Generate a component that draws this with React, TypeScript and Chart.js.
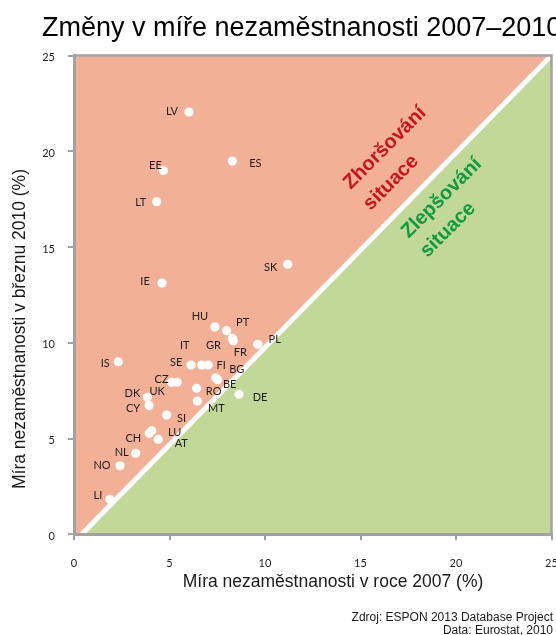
import React, { useEffect, useRef } from "react";
import { Chart, registerables } from "chart.js";
Chart.register(...registerables);

// ---- data ----
const countryCodes = [
  "LV", "ES", "EE", "LT", "IE", "SK", "HU", "PT", "GR", "FR", "PL",
  "IS", "SE", "IT", "FI", "BG", "BE", "CZ", "UK", "RO", "DE", "MT",
  "DK", "CY", "SI", "LU", "CH", "AT", "NL", "NO", "LI",
];
const rate2007 = [
  6.02, 8.29, 4.68, 4.33, 4.61, 11.19, 7.38, 7.99, 8.29, 8.34, 9.62,
  2.32, 6.13, 6.69, 7.03, 7.42, 7.52, 5.11, 5.4, 6.42, 8.64, 6.46,
  3.84, 3.93, 4.85, 4.07, 3.94, 4.41, 3.23, 2.41, 1.88,
];
const rate2010 = [
  22.05, 19.49, 18.99, 17.37, 13.12, 14.1, 10.83, 10.63, 10.23, 10.11, 9.92,
  9.01, 8.84, 8.84, 8.84, 8.17, 8.07, 7.94, 7.94, 7.62, 7.31, 6.96,
  7.15, 6.72, 6.23, 5.41, 5.27, 4.96, 4.23, 3.58, 1.83,
];
const axisTicks = [0, 5, 10, 15, 20, 25];

// ---- label placement (pixel offsets of each country label from its point) ----
const LABEL_OFFSETS: Record<string, [number, number]> = {
  LV: [-17, -1], ES: [23, 2], EE: [-8, -5], LT: [-16, 1], IE: [-17, -2],
  SK: [-17, 3], HU: [-15, -10], PT: [16, -8], GR: [-19, 7], FR: [7, 12],
  PL: [17, -5], IS: [-13, 2], SE: [-15, -3], IT: [-17, -20], FI: [13, 0],
  BG: [21, -8], BE: [12, 5], CZ: [-10, -3], UK: [-20, 9], RO: [17, 3],
  DE: [21, 3], MT: [19, 7], DK: [-15, -4], CY: [-16, 3], SI: [15, 3],
  LU: [23, 2], CH: [-16, 5], AT: [23, 4], NL: [-14, -1], NO: [-18, 0],
  LI: [-12, -4],
};

const GRAY = "#a2a2a2";
const SALMON = "rgb(242,177,150)";
const GREEN = "rgb(193,216,152)";
const SANS = '"Liberation Sans", Arial, sans-serif';

export default function App() {
  const ref = useRef<HTMLCanvasElement | null>(null);

  useEffect(() => {
    if (!ref.current) return;

    const plugin = {
      id: "decor",
      beforeDraw(chart: any) {
        const { ctx, chartArea: a, scales } = chart;
        const X = (v: number) => scales.x.getPixelForValue(v);
        const Y = (v: number) => scales.y.getPixelForValue(v);
        ctx.save();
        ctx.beginPath();
        ctx.rect(a.left, a.top, a.right - a.left, a.bottom - a.top);
        ctx.clip();
        ctx.fillStyle = SALMON;
        ctx.beginPath();
        ctx.moveTo(X(0), Y(0));
        ctx.lineTo(X(0.4), Y(0));
        ctx.lineTo(X(25), Y(25));
        ctx.lineTo(X(0), Y(25));
        ctx.closePath();
        ctx.fill();
        ctx.fillStyle = GREEN;
        ctx.beginPath();
        ctx.moveTo(X(0.4), Y(0));
        ctx.lineTo(X(25), Y(0));
        ctx.lineTo(X(25), Y(25));
        ctx.closePath();
        ctx.fill();
        ctx.strokeStyle = "#ffffff";
        ctx.lineWidth = 5;
        ctx.beginPath();
        ctx.moveTo(X(0.4), Y(0));
        ctx.lineTo(X(25), Y(25));
        ctx.stroke();
        ctx.restore();
      },
      beforeDatasetsDraw(chart: any) {
        const { ctx, chartArea: a } = chart;
        ctx.save();
        ctx.strokeStyle = GRAY;
        ctx.lineWidth = 2.5;
        ctx.beginPath();
        ctx.moveTo(a.left, a.top);
        ctx.lineTo(a.right, a.top);
        ctx.lineTo(a.right, a.bottom);
        ctx.stroke();
        ctx.restore();
      },
      afterDatasetsDraw(chart: any) {
        const { ctx } = chart;
        const meta = chart.getDatasetMeta(0);
        ctx.save();
        ctx.font = '11px Lato, "Open Sans", sans-serif';
        ctx.fillStyle = "#1e1e1e";
        ctx.textAlign = "center";
        ctx.textBaseline = "middle";
        meta.data.forEach((pt: any, i: number) => {
          const code = countryCodes[i];
          const off = LABEL_OFFSETS[code] || [0, -10];
          ctx.fillText(code, pt.x + off[0], pt.y + off[1]);
        });
        ctx.restore();
      },
      afterDraw(chart: any) {
        const { ctx, scales } = chart;
        const X = (v: number) => scales.x.getPixelForValue(v);
        const Y = (v: number) => scales.y.getPixelForValue(v);
        ctx.save();
        // title
        ctx.fillStyle = "#000";
        ctx.font = `27px ${SANS}`;
        ctx.textAlign = "left";
        ctx.textBaseline = "alphabetic";
        ctx.fillText("Změny v míře nezaměstnanosti 2007–2010", 42, 36);
        // axis titles
        ctx.fillStyle = "#1a1a1a";
        ctx.font = `17.5px ${SANS}`;
        ctx.textAlign = "center";
        ctx.textBaseline = "middle";
        ctx.fillText("Míra nezaměstnanosti v roce 2007 (%)", 333, 582);
        ctx.save();
        ctx.translate(20, 329);
        ctx.rotate(-Math.PI / 2);
        ctx.fillText("Míra nezaměstnanosti v březnu 2010 (%)", 0, 0);
        ctx.restore();
        // region labels
        ctx.font = `bold 20px ${SANS}`;
        const region = (text: string, vx: number, vy: number, color: string) => {
          ctx.save();
          ctx.translate(X(vx), Y(vy));
          ctx.rotate(-Math.PI / 4);
          ctx.fillStyle = color;
          ctx.fillText(text, 0, 0);
          ctx.restore();
        };
        region("Zhoršování", 16.28, 20.17, "#c4161c");
        region("situace", 16.6, 18.36, "#c4161c");
        region("Zlepšování", 19.25, 17.56, "#119a3f");
        region("situace", 19.58, 15.9, "#119a3f");
        // source
        ctx.fillStyle = "#1a1a1a";
        ctx.font = `12px ${SANS}`;
        ctx.textAlign = "right";
        ctx.textBaseline = "alphabetic";
        ctx.fillText("Zdroj: ESPON 2013 Database Project", 553, 621);
        ctx.fillText("Data: Eurostat, 2010", 553, 633.5);
        ctx.restore();
      },
    };

    const tickFont = { family: 'Lato, "Open Sans", sans-serif', size: 11 };
    const setTicks = (s: any) => {
      s.ticks = axisTicks.map((v) => ({ value: v }));
    };

    const chart = new Chart(ref.current, {
      type: "scatter",
      data: {
        datasets: [
          {
            data: countryCodes.map((_, i) => ({ x: rate2007[i], y: rate2010[i] })),
            backgroundColor: "#ffffff",
            borderWidth: 0,
            pointRadius: 4.6,
            pointHoverRadius: 4.6,
          },
        ],
      },
      options: {
        animation: false,
        responsive: true,
        maintainAspectRatio: false,
        events: [],
        layout: { padding: { top: 55.5, right: 38.5, left: 0, bottom: 0 } },
        plugins: {
          legend: { display: false },
          title: { display: false },
          tooltip: { enabled: false },
        },
        scales: {
          x: {
            type: "linear",
            min: 0,
            max: 25,
            afterBuildTicks: setTicks,
            afterFit: (s: any) => {
              s.height = 635 - 534.3;
            },
            ticks: { font: tickFont, color: "#1e1e1e", padding: 17, maxRotation: 0 },
            grid: { drawOnChartArea: false, drawTicks: true, tickLength: 6, color: GRAY, lineWidth: 2 },
            border: { display: true, color: GRAY, width: 3 },
          },
          y: {
            type: "linear",
            min: 0,
            max: 25,
            afterBuildTicks: setTicks,
            afterFit: (s: any) => {
              s.width = 74;
            },
            ticks: { font: tickFont, color: "#1e1e1e", padding: 13, labelOffset: 2 },
            grid: { drawOnChartArea: false, drawTicks: true, tickLength: 6, color: GRAY, lineWidth: 2 },
            border: { display: true, color: GRAY, width: 3 },
          },
        },
      },
      plugins: [plugin],
    } as any);

    return () => chart.destroy();
  }, []);

  return (
    <div style={{ position: "absolute", left: 0, top: 0, width: 556, height: 635, overflow: "hidden", background: "#fff" }}>
      <div style={{ position: "relative", width: 590, height: 635 }}>
        <canvas ref={ref} />
      </div>
    </div>
  );
}
